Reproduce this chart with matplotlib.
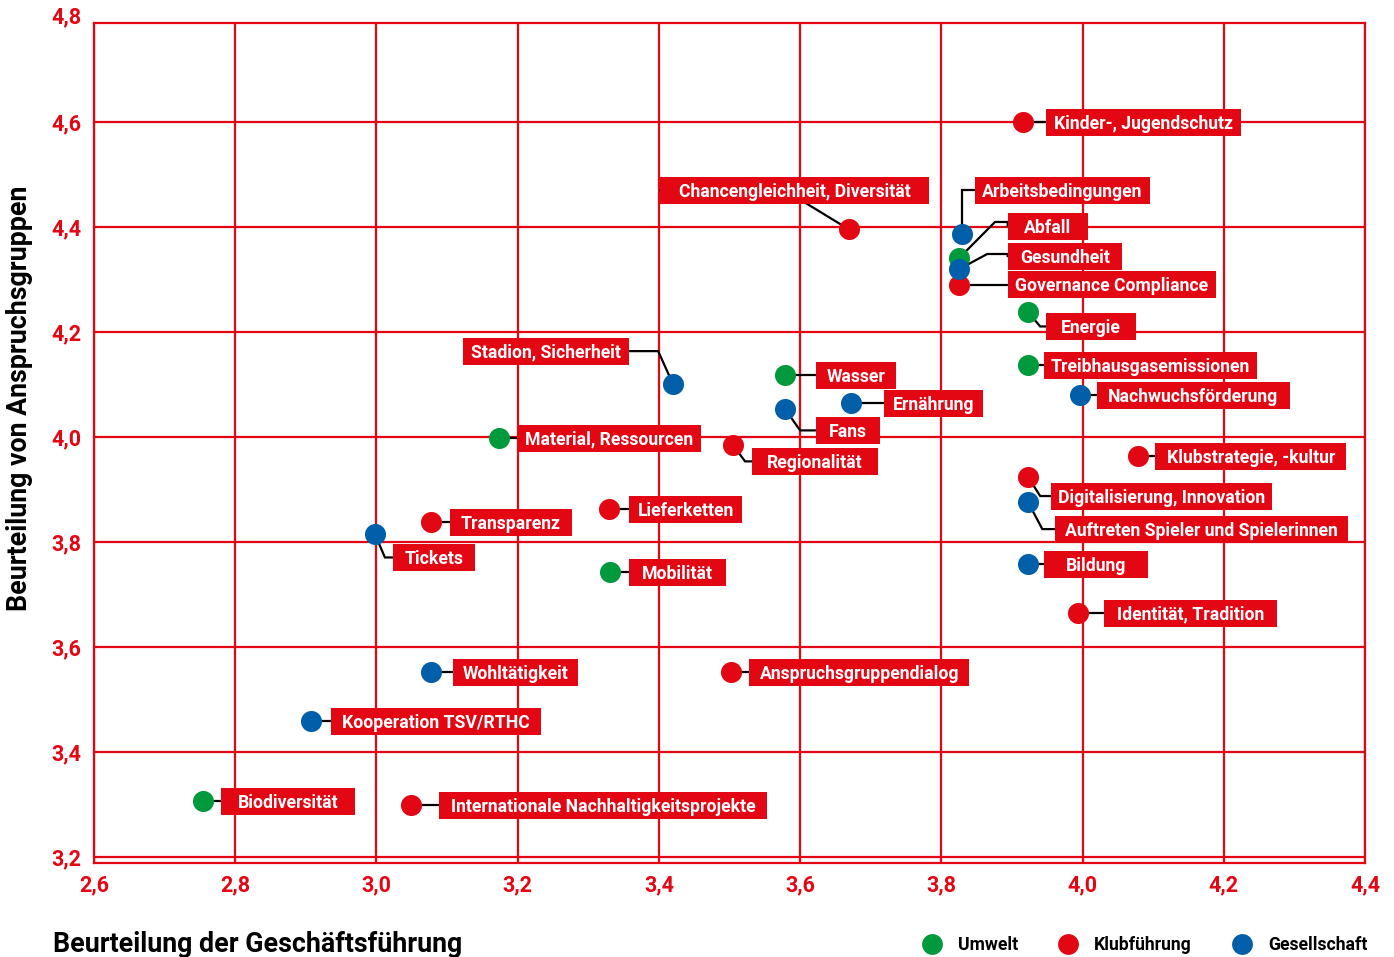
import numpy as np
import matplotlib.pyplot as plt
import matplotlib as mpl
from matplotlib.patches import Rectangle
from matplotlib.lines import Line2D

mpl.rcParams['font.family'] = ['Roboto', 'DejaVu Sans']
mpl.rcParams['font.weight'] = 'bold'

RED = '#e30613'
GREEN = '#009a3d'
BLUE = '#005fa8'

# Umwelt
umwelt_names = ['Biodiversität', 'Material, Ressourcen', 'Mobilität', 'Wasser',
                'Energie', 'Treibhausgasemissionen', 'Abfall']
umwelt_x = [2.754, 3.174, 3.331, 3.579, 3.923, 3.923, 3.825]
umwelt_y = [3.307, 3.998, 3.743, 4.118, 4.238, 4.137, 4.341]

# Klubfuehrung
klub_names = ['Kinder-, Jugendschutz', 'Chancengleichheit, Diversität',
              'Governance Compliance', 'Regionalität', 'Lieferketten', 'Transparenz',
              'Klubstrategie, -kultur', 'Digitalisierung, Innovation',
              'Identität, Tradition', 'Anspruchsgruppendialog',
              'Internationale Nachhaltigkeitsprojekte']
klub_x = [3.916, 3.669, 3.825, 3.505, 3.329, 3.077, 4.079, 3.923, 3.994, 3.502, 3.049]
klub_y = [4.600, 4.396, 4.290, 3.985, 3.863, 3.838, 3.964, 3.924, 3.665, 3.552, 3.299]

# Gesellschaft
ges_names = ['Arbeitsbedingungen', 'Gesundheit', 'Stadion, Sicherheit', 'Fans',
             'Ernährung', 'Nachwuchsförderung', 'Auftreten Spieler und Spielerinnen',
             'Bildung', 'Tickets', 'Wohltätigkeit', 'Kooperation TSV/RTHC']
ges_x = [3.829, 3.825, 3.420, 3.579, 3.672, 3.996, 3.923, 3.923, 2.998, 3.077, 2.907]
ges_y = [4.387, 4.320, 4.101, 4.053, 4.065, 4.080, 3.876, 3.758, 3.815, 3.552, 3.459]

# label layout: box edge x, box centre y, side of edge, box width (px), elbows
label_pos = {
    'Kinder-, Jugendschutz': (3.948, 4.600, 'l', 195, []),
    'Chancengleichheit, Diversität': (3.402, 4.470, 'l', 269, [(3.608, 4.446)]),
    'Arbeitsbedingungen': (3.848, 4.470, 'l', 173, [(3.829, 4.470)]),
    'Abfall': (3.894, 4.402, 'l', 80, [(3.876, 4.410), (3.894, 4.410)]),
    'Gesundheit': (3.894, 4.345, 'l', 114, [(3.865, 4.349), (3.894, 4.349)]),
    'Governance Compliance': (3.894, 4.290, 'l', 208, []),
    'Energie': (3.948, 4.211, 'l', 90, [(3.940, 4.211)]),
    'Treibhausgasemissionen': (3.945, 4.137, 'l', 211, []),
    'Nachwuchsförderung': (4.020, 4.080, 'l', 193, []),
    'Wasser': (3.623, 4.118, 'l', 80, []),
    'Ernährung': (3.719, 4.065, 'l', 99, []),
    'Fans': (3.623, 4.013, 'l', 64, [(3.600, 4.013)]),
    'Regionalität': (3.532, 3.954, 'l', 126, [(3.522, 3.954)]),
    'Stadion, Sicherheit': (3.358, 4.164, 'r', 166, [(3.399, 4.164)]),
    'Material, Ressourcen': (3.199, 3.998, 'l', 184, []),
    'Klubstrategie, -kultur': (4.103, 3.964, 'l', 191, []),
    'Digitalisierung, Innovation': (3.955, 3.888, 'l', 219, [(3.940, 3.888)]),
    'Auftreten Spieler und Spielerinnen': (3.961, 3.825, 'l', 293, [(3.943, 3.825)]),
    'Bildung': (3.945, 3.758, 'l', 104, []),
    'Identität, Tradition': (4.030, 3.665, 'l', 173, []),
    'Lieferketten': (3.358, 3.863, 'l', 113, []),
    'Transparenz': (3.104, 3.838, 'l', 122, []),
    'Tickets': (3.023, 3.771, 'l', 82, [(3.012, 3.771)]),
    'Mobilität': (3.358, 3.743, 'l', 97, []),
    'Wohltätigkeit': (3.108, 3.552, 'l', 125, []),
    'Anspruchsgruppendialog': (3.528, 3.552, 'l', 220, []),
    'Kooperation TSV/RTHC': (2.936, 3.459, 'l', 210, []),
    'Biodiversität': (2.780, 3.307, 'l', 134, []),
    'Internationale Nachhaltigkeitsprojekte': (3.089, 3.299, 'l', 328, []),
}

W, H = 1394, 957
fig = plt.figure(figsize=(W / 100, H / 100), dpi=100)
ax = fig.add_axes([94 / W, 1 - 863 / H, (1365 - 94) / W, (863 - 23) / H])
ax.set_xlim(2.6, 4.4)
ax.set_ylim(3.189, 4.789)

xt = np.round(np.arange(2.6, 4.41, 0.2), 1)
yt = np.round(np.arange(3.2, 4.61, 0.2), 1)
ax.set_xticks(xt)
ax.set_yticks(yt)
ax.set_xticklabels([f'{v:.1f}'.replace('.', ',') for v in xt])
ax.set_yticklabels([f'{v:.1f}'.replace('.', ',') for v in yt])
ax.tick_params(length=0, labelcolor=RED, labelsize=15.5)
ax.tick_params(axis='x', pad=8)
ax.tick_params(axis='y', pad=9)
ax.grid(True, color=RED, lw=1.6)
ax.set_axisbelow(True)
for s in ax.spines.values():
    s.set_color(RED)
    s.set_linewidth(1.6)
ax.annotate('4,8', xy=(0, 4.8), xycoords=('axes fraction', 'data'),
            xytext=(-9, 0), textcoords='offset points', ha='right', va='center',
            color=RED, fontsize=15.5, annotation_clip=False)

groups = [(umwelt_names, umwelt_x, umwelt_y, GREEN),
          (klub_names, klub_x, klub_y, RED),
          (ges_names, ges_x, ges_y, BLUE)]

for names, xs, ys, c in groups:
    ax.scatter(xs, ys, s=230, color=c, linewidths=0, zorder=3, clip_on=False)

# pixel scale of data units
p0 = ax.transData.transform((0, 0))
sx = ax.transData.transform((1, 0))[0] - p0[0]
sy = ax.transData.transform((0, 1))[1] - p0[1]
renderer = fig.canvas.get_renderer()
box_h = 27 / sy

for names, xs, ys, c in groups:
    for n, px, py in zip(names, xs, ys):
        bx, by, side, wpx, elbows = label_pos[n]
        path = [(px, py)] + elbows + [(bx, by)]
        ax.plot([p[0] for p in path], [p[1] for p in path], color='black',
                lw=1.6, zorder=2, solid_joinstyle='miter')
        t = ax.text(0, by - 1.5 / sy, n, color='white', fontsize=12.7,
                    ha='center', va='center', zorder=6, clip_on=False)
        tw = t.get_window_extent(renderer).width
        wpx = max(wpx, tw + 14)
        w = wpx / sx
        left = bx if side == 'l' else bx - w
        t.set_x(left + w / 2)
        ax.add_patch(Rectangle((left, by - box_h / 2), w, box_h, color=RED,
                               lw=0, zorder=5, clip_on=False))

fig.text(20 / W, 1 - 398 / H, 'Beurteilung von Anspruchsgruppen', rotation=90,
         ha='center', va='center', fontsize=19.3, color='black')
fig.text(53 / W, 1 - 945 / H, 'Beurteilung der Geschäftsführung', ha='left',
         va='center', fontsize=19.3, color='black')

legend_items = [('Umwelt', GREEN, 932), ('Klubführung', RED, 1068),
                ('Gesellschaft', BLUE, 1242)]
for lab, c, lx in legend_items:
    fig.add_artist(Line2D([lx / W], [1 - 944 / H], transform=fig.transFigure,
                          marker='o', ms=15, color=c, mew=0, ls='none'))
    fig.text((lx + 26) / W, 1 - 945 / H, lab, ha='left', va='center',
             fontsize=12.7, color='black')

fig.savefig('out.png', dpi=100)
